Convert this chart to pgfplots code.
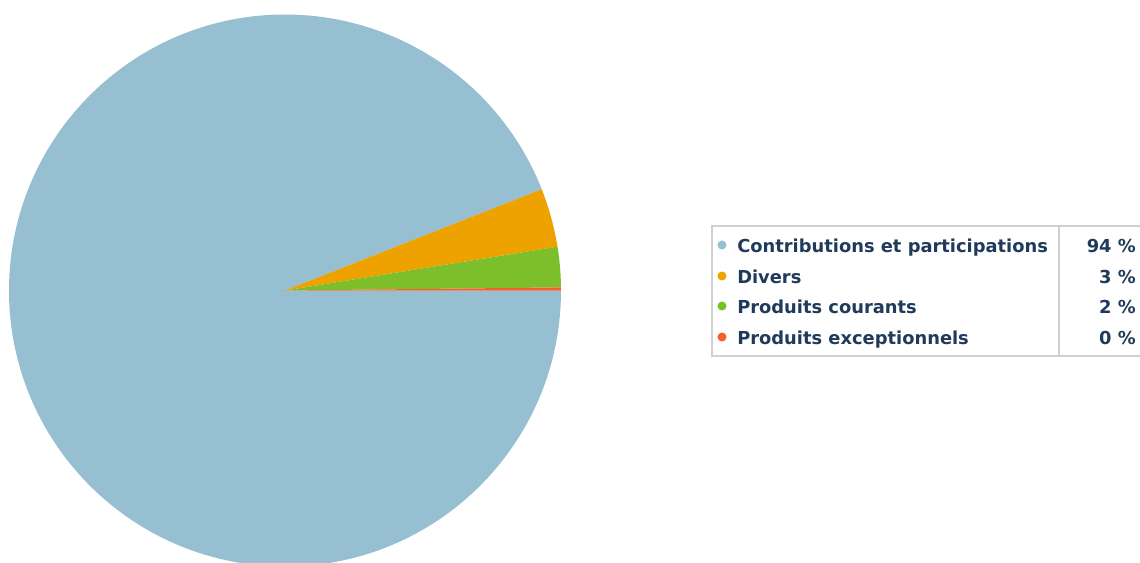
\documentclass[border=0pt]{standalone}
\usepackage{pgfplots}
\pgfplotsset{compat=1.18}
\usepackage{pgfplotstable}
\usepackage{fontspec}
\setmainfont{DejaVu Sans}
\definecolor{cBlue}{HTML}{96BFD1}
\definecolor{cOrange}{HTML}{EDA200}
\definecolor{cGreen}{HTML}{7DBF2A}
\definecolor{cRed}{HTML}{F0622A}
\definecolor{cText}{HTML}{1F3A5A}
\definecolor{cBorder}{HTML}{D0D0D0}

\pgfplotstableread{
label value
Contributions 94.02
Divers 3.44
Courants 2.36
Exceptionnels 0.18
}\piedata

\begin{document}
\begin{tikzpicture}
\pgfplotstablegetelem{0}{value}\of\piedata \let\vA\pgfplotsretval
\pgfplotstablegetelem{1}{value}\of\piedata \let\vB\pgfplotsretval
\pgfplotstablegetelem{2}{value}\of\piedata \let\vC\pgfplotsretval
\pgfplotstablegetelem{3}{value}\of\piedata \let\vD\pgfplotsretval
\pgfmathsetmacro\eA{-3.6*\vA}
\pgfmathsetmacro\eB{\eA-3.6*\vB}
\pgfmathsetmacro\eC{\eB-3.6*\vC}
\pgfmathsetmacro\eD{\eC-3.6*\vD}
\path[use as bounding box] (0,0) rectangle (855pt,421.5pt);
\begin{axis}[
  at={(0,0)}, anchor=south west,
  x=0.75pt, y=0.75pt, scale only axis,
  xmin=0, xmax=1140, ymin=0, ymax=562, y dir=reverse,
  hide axis, clip=true,
]
\addplot[draw=none] coordinates {(0,0)};
\fill[cBlue]   (axis cs:285,290.5) -- +(0:207pt) arc[start angle=0,end angle=\eA,radius=207pt] -- cycle;
\fill[cOrange] (axis cs:285,290.5) -- +(\eA:207pt) arc[start angle=\eA,end angle=\eB,radius=207pt] -- cycle;
\fill[cGreen]  (axis cs:285,290.5) -- +(\eB:207pt) arc[start angle=\eB,end angle=\eC,radius=207pt] -- cycle;
\fill[cRed]    (axis cs:285,290.5) -- +(\eC:207pt) arc[start angle=\eC,end angle=\eD,radius=207pt] -- cycle;
% legend
\draw[cBorder, line width=1.5pt] (axis cs:711.5,226) rectangle (axis cs:1160,356);
\draw[cBorder, line width=1.5pt] (axis cs:1059,226) -- (axis cs:1059,356);
\fill[cBlue]   (axis cs:722,245) circle[radius=3.4pt];
\fill[cOrange] (axis cs:722,276) circle[radius=3.4pt];
\fill[cGreen]  (axis cs:722,306) circle[radius=3.4pt];
\fill[cRed]    (axis cs:722,337) circle[radius=3.4pt];
\begin{scope}[every node/.style={inner sep=0pt, text=cText, font=\bfseries\fontsize{13.4}{15}\selectfont}]
\node[anchor=base west] at (axis cs:737,252) {Contributions et participations};
\node[anchor=base west] at (axis cs:737,283) {Divers};
\node[anchor=base west] at (axis cs:737,313) {Produits courants};
\node[anchor=base west] at (axis cs:737,344) {Produits exceptionnels};
\node[anchor=base east] at (axis cs:1136,252) {94 \%};
\node[anchor=base east] at (axis cs:1136,283) {3 \%};
\node[anchor=base east] at (axis cs:1136,313) {2 \%};
\node[anchor=base east] at (axis cs:1136,344) {0 \%};
\end{scope}
\end{axis}
\end{tikzpicture}
\end{document}
